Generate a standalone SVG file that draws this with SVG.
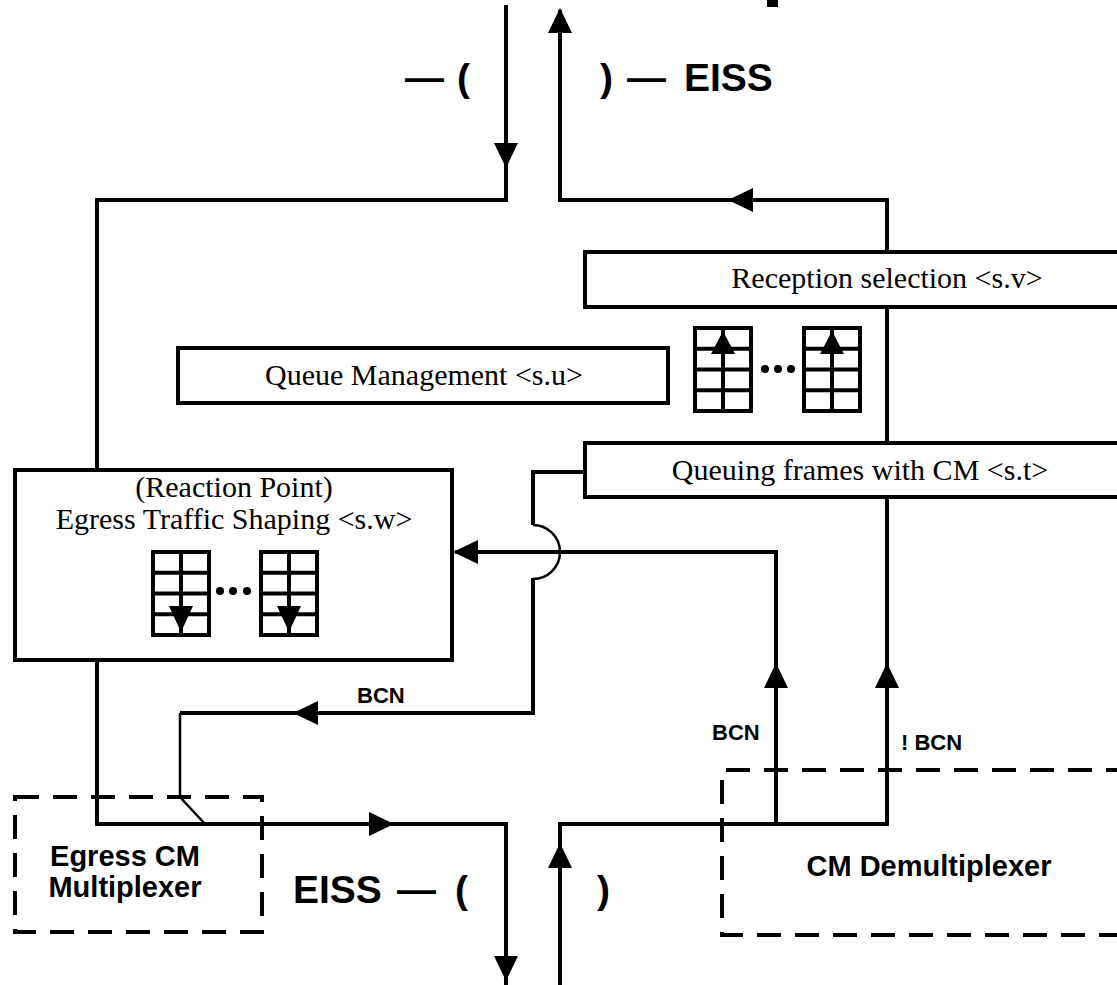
<svg xmlns="http://www.w3.org/2000/svg" xmlns:xlink="http://www.w3.org/1999/xlink" width="1117" height="985" viewBox="0 0 1117 985">
<style>
.ln{fill:none;stroke:#000;stroke-width:4;stroke-linejoin:miter}
.thin{fill:none;stroke:#000;stroke-width:2.5}
.box{fill:#fff;stroke:#000;stroke-width:4}
.dash{fill:none;stroke:#000;stroke-width:4;stroke-dasharray:24 14}
.serif{font-family:"Liberation Serif","Times New Roman",serif;font-size:30px;fill:#000}
.sans{font-family:"Liberation Sans",Arial,sans-serif;font-weight:bold;fill:#000}
.big{font-size:39px}
.mid{font-size:29px}
.sm{font-size:22px}
</style>
<defs>
<path id="ah" d="M0,0 L-25,-12 L-25,12 Z" fill="#000"/>
<g id="qup">
<rect x="2" y="2" width="56" height="83" fill="#fff" stroke="#000" stroke-width="4"/>
<path d="M2,22.75H58M2,43.5H58M2,64.25H58M30,2V85" stroke="#000" stroke-width="4" fill="none"/>
<path d="M30,5 L18,28 L42,28 Z" fill="#000"/>
</g>
<g id="qdown">
<rect x="2" y="2" width="56" height="83" fill="#fff" stroke="#000" stroke-width="4"/>
<path d="M2,22.75H58M2,43.5H58M2,64.25H58M30,2V85" stroke="#000" stroke-width="4" fill="none"/>
<path d="M30,82 L18,56 L42,56 Z" fill="#000"/>
</g>
</defs>
<rect width="1117" height="985" fill="#fff"/>
<rect x="767" y="0" width="11" height="7" fill="#000"/>

<g id="connectors">
<path class="ln" d="M506,5V200H97V470"/>
<path class="ln" d="M560,10V200H887V824H560V985"/>
<path class="ln" d="M97,660V824H506V985"/>
<path class="ln" d="M776,824V552H455"/>
<path class="ln" d="M585,472H533V525"/>
<path class="thin" d="M533,525A27,27 0 0 1 533,579"/>
<path class="ln" d="M533,578V713H180"/>
<path class="thin" d="M180,713V797L205,824"/>
<use xlink:href="#ah" transform="translate(506,168) rotate(90)"/>
<use xlink:href="#ah" transform="translate(560,8) rotate(-90)"/>
<use xlink:href="#ah" transform="translate(728,200) rotate(180)"/>
<use xlink:href="#ah" transform="translate(453,552) rotate(180)"/>
<use xlink:href="#ah" transform="translate(293,713) rotate(180)"/>
<use xlink:href="#ah" transform="translate(394,824)"/>
<use xlink:href="#ah" transform="translate(506,981) rotate(90)"/>
<use xlink:href="#ah" transform="translate(560,843) rotate(-90)"/>
<use xlink:href="#ah" transform="translate(776,663) rotate(-90)"/>
<use xlink:href="#ah" transform="translate(887,663) rotate(-90)"/>
<text class="sans sm" x="357" y="703">BCN</text>
<text class="sans sm" x="712" y="740">BCN</text>
<text class="sans sm" x="901" y="750">! BCN</text>
</g>

<g id="reception">
<rect class="box" x="585" y="252" width="560" height="55"/>
<text class="serif" x="887" y="288" text-anchor="middle">Reception selection &lt;s.v&gt;</text>
</g>

<g id="queue-mgmt">
<rect class="box" x="178" y="348" width="490" height="55"/>
<text class="serif" x="424" y="385" text-anchor="middle">Queue Management &lt;s.u&gt;</text>
</g>

<g id="rx-queues">
<use xlink:href="#qup" transform="translate(693,326)"/>
<use xlink:href="#qup" transform="translate(802,326)"/>
<circle cx="765" cy="369" r="4"/>
<circle cx="778" cy="369" r="4"/>
<circle cx="791" cy="369" r="4"/>
</g>

<g id="queuing">
<rect class="box" x="585" y="443" width="560" height="54"/>
<text class="serif" x="860" y="480" text-anchor="middle">Queuing frames with CM &lt;s.t&gt;</text>
</g>

<g id="egress-shaping">
<rect class="box" x="15" y="470" width="437" height="190"/>
<text class="serif" x="234" y="497" text-anchor="middle">(Reaction Point)</text>
<text class="serif" x="234" y="529" text-anchor="middle">Egress Traffic Shaping &lt;s.w&gt;</text>
<use xlink:href="#qdown" transform="translate(151,550)"/>
<use xlink:href="#qdown" transform="translate(259,550)"/>
<circle cx="220" cy="591" r="4"/>
<circle cx="233" cy="591" r="4"/>
<circle cx="247" cy="591" r="4"/>
</g>

<g id="egress-mux">
<rect class="dash" x="15" y="797" width="247" height="135"/>
<text class="sans mid" x="125" y="866" text-anchor="middle">Egress CM</text>
<text class="sans mid" x="125" y="897" text-anchor="middle">Multiplexer</text>
</g>

<g id="cm-demux">
<path class="dash" d="M1130,770H722V935H1130"/>
<text class="sans mid" x="929" y="876" text-anchor="middle">CM Demultiplexer</text>
</g>

<g id="eiss-top">
<text class="sans big" y="91"><tspan x="405">—</tspan><tspan x="457">(</tspan></text>
<text class="sans big" y="91"><tspan x="600">)</tspan><tspan x="627">—</tspan><tspan x="684">EISS</tspan></text>
</g>
<g id="eiss-bottom">
<text class="sans big" y="903"><tspan x="293">EISS</tspan><tspan x="397">—</tspan><tspan x="455">(</tspan></text>
<text class="sans big" y="903"><tspan x="597">)</tspan></text>
</g>
</svg>
